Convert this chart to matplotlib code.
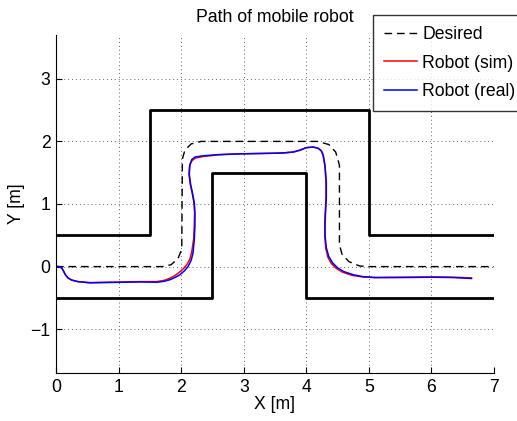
import matplotlib
matplotlib.use("Agg")
import matplotlib.pyplot as plt

plt.rcParams["font.family"] = ["Liberation Sans", "DejaVu Sans"]

# walls of the corridor
upper_wall_x = [0, 1.5, 1.5, 5, 5, 7]
upper_wall_y = [0.5, 0.5, 2.5, 2.5, 0.5, 0.5]
lower_wall_x = [0, 2.5, 2.5, 4, 4, 7]
lower_wall_y = [-0.5, -0.5, 1.5, 1.5, -0.5, -0.5]

# desired path
des_x = [0, 1.7, 1.84, 1.95, 2.01, 2.02, 2.06, 2.16, 2.32, 4.18, 4.36, 4.47, 4.53,
         4.53, 4.57, 4.68, 4.85, 5.0, 7.0]
des_y = [0, 0, 0.03, 0.13, 0.28, 1.72, 1.86, 1.96, 2.0, 2.0, 1.95, 1.83, 1.62,
         0.35, 0.2, 0.08, 0.01, 0, 0]

# robot path, real
real_x = [0, 0.05, 0.09, 0.12, 0.15, 0.19, 0.25, 0.35, 0.54, 0.8, 1.08, 1.34, 1.61,
          1.73, 1.82, 1.91, 1.98, 2.05, 2.11, 2.16, 2.19, 2.21, 2.22, 2.22, 2.21,
          2.18, 2.15, 2.13, 2.14, 2.17, 2.22, 2.35, 2.6, 2.89, 3.15, 3.42, 3.62,
          3.79, 3.9, 4.0, 4.11, 4.19, 4.24, 4.27, 4.3, 4.32, 4.32, 4.31, 4.3, 4.3,
          4.32, 4.36, 4.42, 4.5, 4.6, 4.75, 4.9, 5.1, 5.5, 6.03, 6.35, 6.64]
real_y = [0, 0, -0.02, -0.07, -0.13, -0.18, -0.215, -0.24, -0.26, -0.255, -0.25,
          -0.245, -0.25, -0.235, -0.21, -0.17, -0.13, -0.07, 0.0, 0.1, 0.22, 0.43,
          0.65, 0.86, 1.02, 1.18, 1.32, 1.48, 1.63, 1.71, 1.75, 1.77, 1.79, 1.8,
          1.805, 1.81, 1.815, 1.83, 1.86, 1.9, 1.91, 1.89, 1.85, 1.78, 1.6, 1.34,
          1.1, 0.91, 0.7, 0.5, 0.3, 0.16, 0.06, -0.02, -0.08, -0.13, -0.16, -0.175,
          -0.175, -0.17, -0.175, -0.19]

# robot path, simulation
sim_x = [0, 0.05, 0.09, 0.12, 0.15, 0.19, 0.25, 0.35, 0.54, 0.8, 1.08, 1.34, 1.61,
         1.73, 1.81, 1.89, 1.96, 2.03, 2.09, 2.14, 2.17, 2.2, 2.21, 2.215, 2.205,
         2.175, 2.145, 2.125, 2.135, 2.17, 2.23, 2.36, 2.6, 2.89, 3.15, 3.42, 3.62,
         3.79, 3.9, 4.0, 4.11, 4.19, 4.24, 4.27, 4.3, 4.315, 4.315, 4.305, 4.295,
         4.295, 4.31, 4.345, 4.4, 4.48, 4.58, 4.73, 4.9, 5.1, 5.5, 6.03, 6.35, 6.64]
sim_y = [0, 0, -0.02, -0.07, -0.13, -0.18, -0.215, -0.24, -0.255, -0.25, -0.245,
         -0.24, -0.24, -0.22, -0.19, -0.15, -0.1, -0.04, 0.03, 0.12, 0.24, 0.44,
         0.65, 0.86, 1.02, 1.18, 1.32, 1.48, 1.61, 1.69, 1.735, 1.76, 1.785, 1.8,
         1.805, 1.81, 1.815, 1.83, 1.86, 1.9, 1.91, 1.89, 1.85, 1.78, 1.6, 1.34,
         1.1, 0.91, 0.7, 0.5, 0.3, 0.15, 0.05, -0.03, -0.09, -0.14, -0.165, -0.175,
         -0.17, -0.165, -0.17, -0.18]

x_ticks = [0, 1, 2, 3, 4, 5, 6, 7]
y_ticks = [-1, 0, 1, 2, 3]
labels = ["Desired", "Robot (sim)", "Robot (real)"]

fs = 12.7
fig = plt.figure(figsize=(5.17, 4.21), dpi=100)
ax = fig.add_axes([56 / 517, 1 - 373 / 421, 438 / 517, 338 / 421])

ax.plot(upper_wall_x, upper_wall_y, color="black", lw=2)
ax.plot(lower_wall_x, lower_wall_y, color="black", lw=2)
h_des, = ax.plot(des_x, des_y, color="black", ls="--", lw=1, dashes=(5.5, 3.5))
h_sim, = ax.plot(sim_x, sim_y, color="red", lw=1.1)
h_real, = ax.plot(real_x, real_y, color="blue", lw=1.1)

ax.set_xlim(0, 7)
ax.set_ylim(-1.7, 3.7)
ax.set_xticks(x_ticks)
ax.set_yticks(y_ticks)
ax.grid(True, ls=(0, (1, 3)), color="0.4", lw=0.7)
ax.tick_params(direction="in", length=4, labelsize=fs, pad=4)
ax.spines["top"].set_visible(False)
ax.spines["right"].set_visible(False)

ax.set_xlabel("X [m]", fontsize=fs, labelpad=0)
ax.set_ylabel("Y [m]", fontsize=fs, labelpad=3.5)
ax.set_title("Path of mobile robot", fontsize=fs, pad=9)

leg = fig.legend([h_des, h_sim, h_real], labels,
                 loc="upper left", bbox_to_anchor=(373 / 517, 1 - 15 / 421),
                 borderaxespad=0, fancybox=False, edgecolor="black",
                 fontsize=fs, handlelength=1.9, labelspacing=0.66,
                 handletextpad=0.28, borderpad=0.62)
leg.get_frame().set_linewidth(1.0)

fig.savefig("out.png", dpi=100)
